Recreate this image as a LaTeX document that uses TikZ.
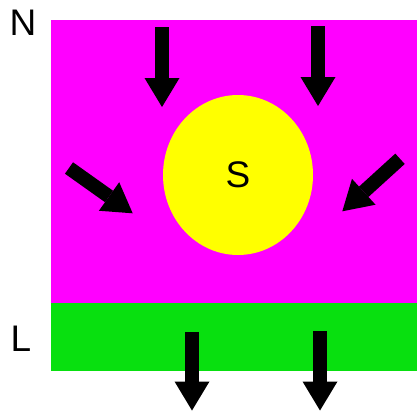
\documentclass[tikz,border=0pt]{standalone}
\usepackage{fontspec}
\setmainfont{Liberation Sans}
\usetikzlibrary{arrows.meta,shapes.geometric}
\definecolor{magbg}{HTML}{FF00FF}
\definecolor{grnbg}{HTML}{08E00F}
\definecolor{sunyel}{HTML}{FFFF00}
\begin{document}
\begin{tikzpicture}[x=1pt,y=-1pt,
  blockarrow/.style={draw=black,line width=14pt,
    -{Triangle[width=35pt,length=29pt,line width=0pt]}},
  lettr/.style={font=\fontsize{37}{37}\selectfont,inner sep=0pt,text=black}]
\useasboundingbox (0,0) rectangle (417,415);
% regions
\fill[magbg] (51,20) rectangle (417,302.5);
\fill[grnbg] (51,302.5) rectangle (417,370.5);
\node[ellipse,fill=sunyel,minimum width=150pt,minimum height=160pt,inner sep=0pt] (sun) at (238,175) {};
% labels
\node[lettr] (N) at (23,23) {N};
\node[lettr] (S) at (238,175) {S};
\node[lettr] (L) at (21,338.5) {L};
% arrow anchors
\coordinate (a1s) at (162,27);   \coordinate (a1e) at (162,107);
\coordinate (a2s) at (318,26);   \coordinate (a2e) at (318,106);
\coordinate (a3s) at (69,168);   \coordinate (a3e) at (132.7,213.3);
\coordinate (a4s) at (400,158.8);\coordinate (a4e) at (342.3,211.3);
\coordinate (a5s) at (192,332);  \coordinate (a5e) at (192,410.5);
\coordinate (a6s) at (320,331);  \coordinate (a6e) at (320,410.5);
\foreach \i in {1,...,6}{\draw[blockarrow] (a\i s) -- (a\i e);}
\end{tikzpicture}
\end{document}
